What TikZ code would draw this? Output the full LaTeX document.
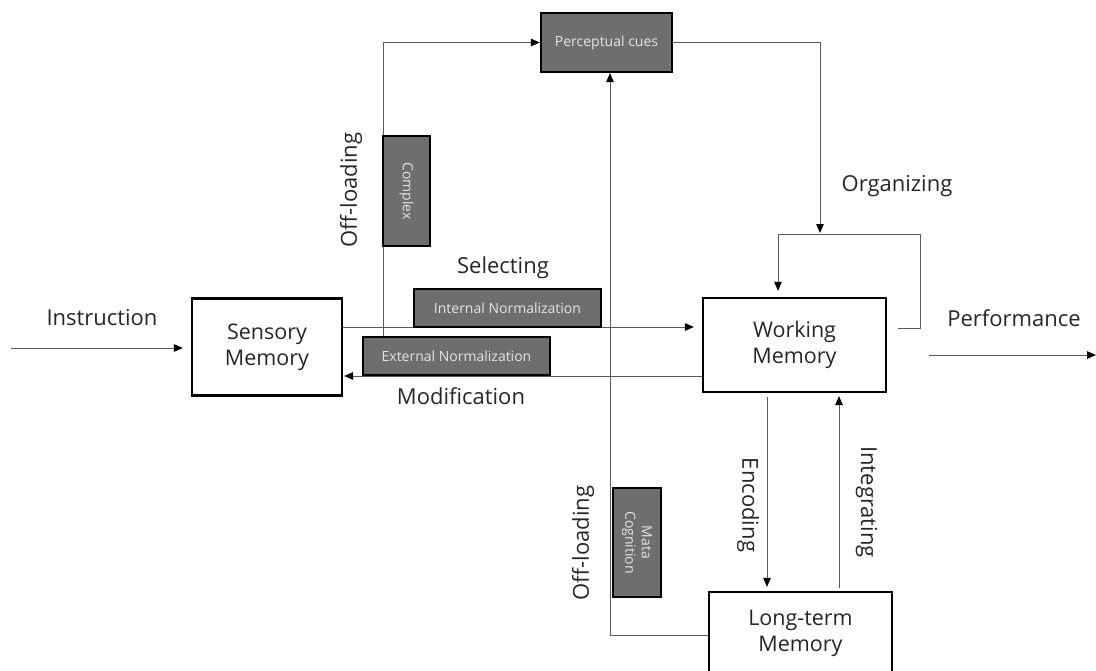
\documentclass[tikz,border=0pt]{standalone}
\usepackage{fontspec}
\setmainfont{Open Sans}
\usetikzlibrary{arrows.meta,backgrounds,calc}
\definecolor{boxgray}{HTML}{6E6E6E}
\definecolor{boxtext}{HTML}{E4E4E4}
\definecolor{linegray}{HTML}{5A5A5A}
\begin{document}
\begin{tikzpicture}[x=1pt,y=-1pt,
  membox/.style={draw=black,line width=2.2pt,fill=white,inner sep=0pt,align=center,
    font=\fontsize{21.5}{26}\selectfont,text=black!85},
  graybox/.style={draw=black,line width=2.2pt,fill=boxgray,inner sep=0pt,align=center,
    font=\fontsize{14}{17}\selectfont,text=boxtext},
  lbl/.style={inner sep=0pt,font=\fontsize{22}{26}\selectfont,text=black!85},
  conn/.style={draw=linegray,line width=1pt,-{Triangle[length=9pt,width=7.5pt,color=black]}},
  plain/.style={draw=linegray,line width=1pt}]
\useasboundingbox (0,0) rectangle (1096,670);

% main boxes
\node[membox,minimum width=150,minimum height=97] (sens) at (267,347) {Sensory\\Memory};
\node[membox,minimum width=183,minimum height=94] (wm) at (794.5,345) {Working\\Memory};
\node[membox,minimum width=183,minimum height=82] (ltm) at (800.5,633) {Long-term\\Memory};

% gray boxes
\node[graybox,minimum width=131,minimum height=59] (pc) at (606.5,42.5) {Perceptual cues};
\node[graybox,minimum width=110,minimum height=47,rotate=-90] (cx) at (406.5,191) {Complex};
\node[graybox,minimum width=187,minimum height=38] (inn) at (507.5,308) {Internal Normalization};
\node[graybox,minimum width=187,minimum height=38] (ext) at (456.5,356) {External Normalization};
\node[graybox,minimum width=109,minimum height=48,rotate=-90,
  font=\fontsize{14}{16.5}\selectfont] (mc) at (637,542.5) {Mata\\Cognition};

% labels
\node[lbl] (linst) at (102,318) {Instruction};
\node[lbl] (lperf) at (1014,318) {Performance};
\node[lbl] (lsel) at (503,268) {Selecting};
\node[lbl] (lmod) at (461,396) {Modification};
\node[lbl] (lorg) at (897,186) {Organizing};
\node[lbl,rotate=90] (loff1) at (351,190) {Off-loading};
\node[lbl,rotate=90] (loff2) at (583,543) {Off-loading};
\node[lbl,rotate=-90] (lenc) at (748,505) {Encoding};
\node[lbl,rotate=-90] (lint) at (866.5,502) {Integrating};

% free ends
\coordinate (instr) at (11,348);
\coordinate (perfA) at (929,355);
\coordinate (perfB) at (1096,355);
\coordinate (loopS) at (898,328);

\begin{scope}[on background layer]
  \draw[conn,shorten >=8pt] (instr) -- (instr -| sens.west);
  \draw[conn,shorten >=8pt] (sens.east |- 0,327) -- (wm.west |- 0,327);
  \draw[conn,shorten >=1pt] (wm.west |- 0,376) -- (sens.east |- 0,376);
  \draw[conn] (ext.north -| 383,0) -- (383,42.5) -- (pc.west);
  \draw[conn] (pc.east) -- (820,42.5) -- (820,233);
  \draw[conn,shorten >=6pt] (loopS) -- (920,328) -- (920,234) -- (778,234) -- (778,0 |- wm.north);
  \draw[conn] (ltm.west |- 0,635) -- (610,635) -- (610,0 |- pc.south);
  \draw[conn,shorten <=4pt,shorten >=4pt] (767,0 |- wm.south) -- (767,0 |- ltm.north);
  \draw[conn,shorten <=3pt,shorten >=3pt] (839,0 |- ltm.north) -- (839,0 |- wm.south);
  \draw[conn] (perfA) -- (perfB);
\end{scope}
\end{tikzpicture}
\end{document}
